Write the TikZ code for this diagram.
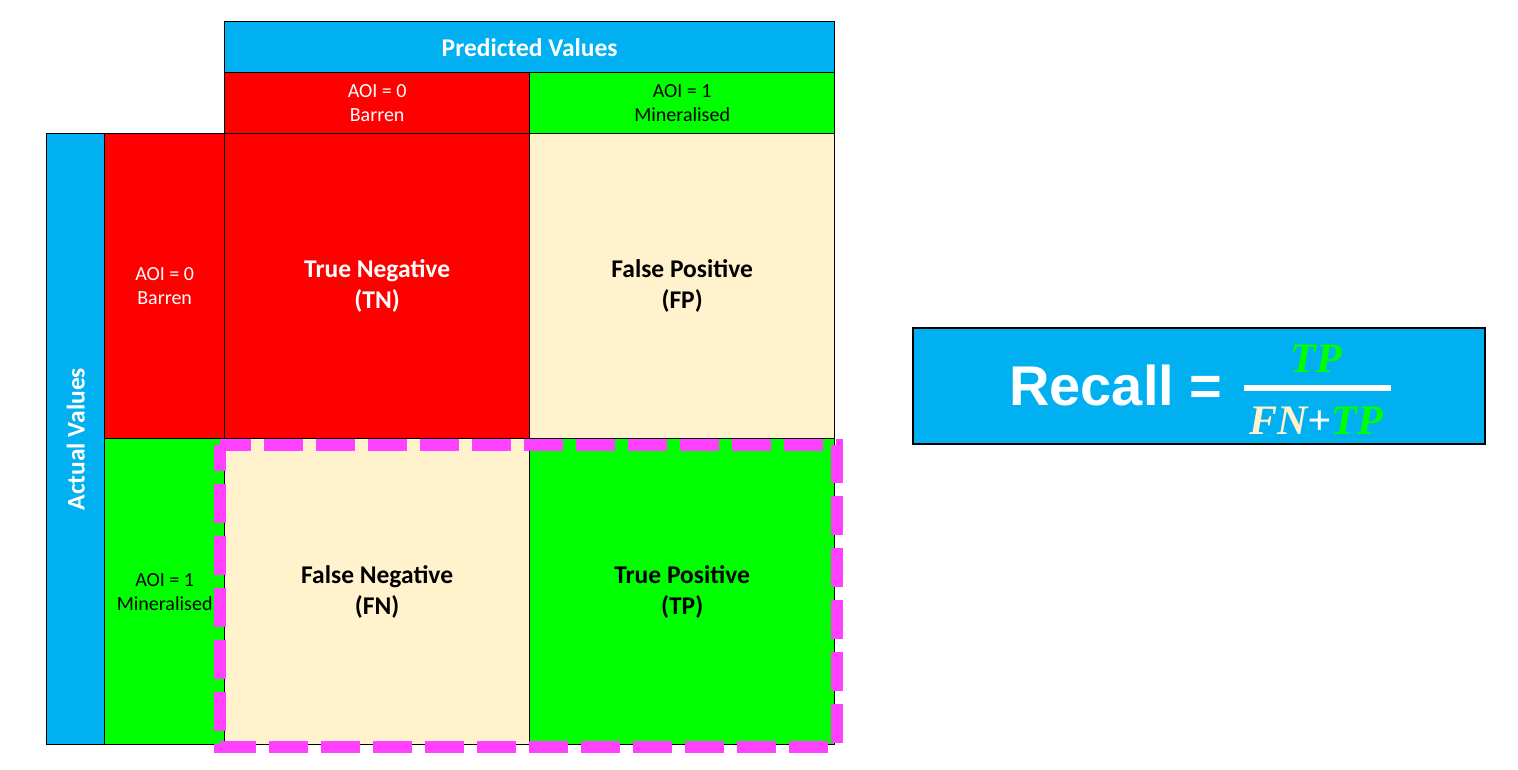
\documentclass[tikz,border=0pt]{standalone}
\usepackage{fontspec}
\setmainfont{Carlito}
\setsansfont{Carlito}
\newfontfamily\formulafont{Liberation Sans}
\newfontfamily\varfont{Liberation Serif}
\definecolor{hdrblue}{HTML}{00B0F0}
\definecolor{cellred}{HTML}{FF0000}
\definecolor{cellgreen}{HTML}{00FF00}
\definecolor{cellcream}{HTML}{FFF2CC}
\definecolor{hilite}{HTML}{FF40FF}
\begin{document}
\begin{tikzpicture}[x=1pt,y=-1pt,
  cell/.style={draw=black, line width=1.3pt, anchor=north west, inner sep=0pt,
    align=center, font=\fontsize{25.5}{31}\selectfont\bfseries},
  lbl/.style={cell, font=\fontsize{20}{24}\selectfont},
  hdr/.style={cell, fill=hdrblue, text=white, font=\fontsize{25.5}{28}\selectfont\bfseries},
  var/.style={inner sep=0pt, anchor=base, font=\varfont\fontsize{42}{44}\selectfont\bfseries\itshape}]
\useasboundingbox (0,0) rectangle (1518,770);

% column header
\node[hdr, minimum width=610pt, minimum height=51pt] (pred) at (224,21) {Predicted Values};
\node[lbl, fill=cellred, text=white, minimum width=305pt, minimum height=61pt] (pc0) at (224,72) {AOI = 0\\Barren};
\node[lbl, fill=cellgreen, text=black, minimum width=305pt, minimum height=61pt] (pc1) at (529,72) {AOI = 1\\Mineralised};

% row header
\node[hdr, minimum width=58pt, minimum height=611pt] (act) at (46,133) {};
\node[text=white, font=\fontsize{25.5}{28}\selectfont\bfseries, rotate=90] (acttxt) at (act.center) {Actual Values};
\node[lbl, fill=cellred, text=white, minimum width=120pt, minimum height=305pt] (ar0) at (104,133) {AOI = 0\\Barren};
\node[lbl, fill=cellgreen, text=black, minimum width=120pt, minimum height=306pt] (ar1) at (104,438) {AOI = 1\\Mineralised};

% confusion matrix cells
\node[cell, fill=cellred, text=white, minimum width=305pt, minimum height=305pt] (tn) at (224,133) {True Negative\\(TN)};
\node[cell, fill=cellcream, text=black, minimum width=305pt, minimum height=305pt] (fp) at (529,133) {False Positive\\(FP)};
\node[cell, fill=cellcream, text=black, minimum width=305pt, minimum height=306pt] (fn) at (224,438) {False Negative\\(FN)};
\node[cell, fill=cellgreen, text=black, minimum width=305pt, minimum height=306pt] (tp) at (529,438) {True Positive\\(TP)};

% highlight around the actual-positive row
\coordinate (hlA) at (219.5,445);
\coordinate (hlB) at (836.5,747);
\draw[hilite, line width=12pt, dash pattern=on 39pt off 13pt, dash phase=13pt] (hlA) rectangle (hlB);

% recall formula
\node[draw=black, line width=1.5pt, fill=hdrblue, anchor=north west, minimum width=572pt, minimum height=116pt, inner sep=0pt] (recall) at (912,327) {};
\node[text=white, anchor=base west, inner sep=0pt, font=\formulafont\fontsize{56}{60}\selectfont\bfseries] (rlbl) at (1009,405) {Recall =};
\node[var, text=cellgreen] (num) at (1316,372) {TP};
\node[var] (den) at (1316,434) {\textcolor{cellcream}{FN}\textcolor{white}{+}\textcolor{cellgreen}{TP}};
\coordinate (barL) at (1244,388);
\coordinate (barR) at (1391,388);
\draw[white, line width=5.5pt] (barL) -- (barR);
\end{tikzpicture}
\end{document}
